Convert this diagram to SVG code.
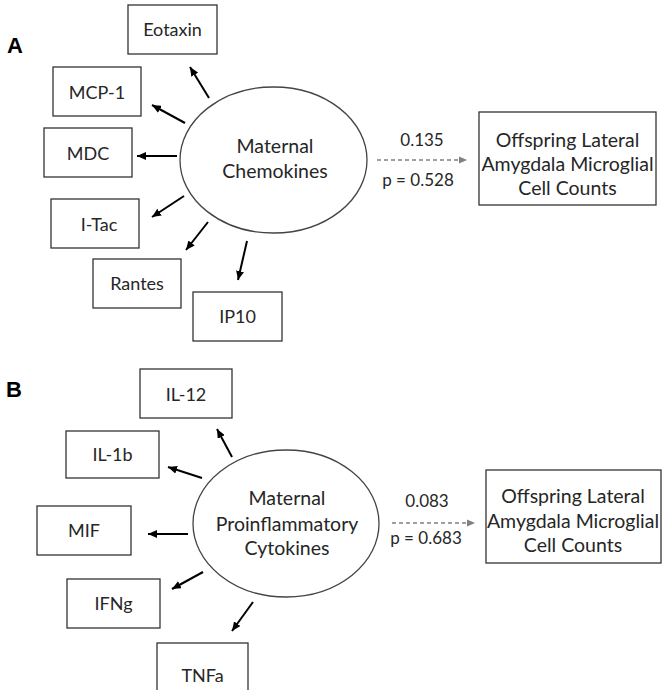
<svg xmlns="http://www.w3.org/2000/svg" width="662" height="690" viewBox="0 0 662 690">
<style>
.box{fill:#fff;stroke:#333;stroke-width:1.3}
.ell{fill:#fff;stroke:#444;stroke-width:1.3}
.t{font-family:Lato,"Liberation Sans",sans-serif;font-size:18px;fill:#262626;text-anchor:middle}
.b{font-family:Lato,"Liberation Sans",sans-serif;font-size:19.5px;fill:#262626;text-anchor:middle}
.s{font-family:Lato,"Liberation Sans",sans-serif;font-size:17px;fill:#262626;text-anchor:middle}
.lbl{font-family:"Liberation Sans",Arial,sans-serif;font-size:22px;font-weight:bold;fill:#000}
.arr{stroke:#000;stroke-width:2;fill:none;marker-end:url(#ah)}
.dash{stroke:#808080;stroke-width:1.3;stroke-dasharray:4 3;fill:none;marker-end:url(#gh)}
</style>
<defs>
<marker id="ah" markerUnits="userSpaceOnUse" markerWidth="9" markerHeight="8" refX="9" refY="4" orient="auto"><path d="M0,0 L9,4 L0,8 z" fill="#000"/></marker>
<marker id="gh" markerUnits="userSpaceOnUse" markerWidth="8" markerHeight="8" refX="8" refY="4" orient="auto"><path d="M0,0.5 L8,4 L0,7.5 z" fill="#808080"/></marker>
</defs>
<rect width="662" height="690" fill="#fff"/>
<text class="lbl" x="7" y="53">A</text>
<text class="lbl" x="6" y="397">B</text>

<g id="connectors">
<line class="arr" x1="209" y1="98" x2="190" y2="67"/>
<line class="arr" x1="185" y1="123" x2="152" y2="105"/>
<line class="arr" x1="177" y1="156" x2="137" y2="156"/>
<line class="arr" x1="184" y1="196" x2="152" y2="217"/>
<line class="arr" x1="208" y1="222" x2="186" y2="250"/>
<line class="arr" x1="247" y1="241" x2="238" y2="280"/>
<line class="dash" x1="377" y1="160" x2="467" y2="160"/>
<line class="arr" x1="232" y1="457" x2="217" y2="429"/>
<line class="arr" x1="202" y1="478" x2="168" y2="467"/>
<line class="arr" x1="188" y1="534" x2="148" y2="534"/>
<line class="arr" x1="203" y1="572" x2="172" y2="589"/>
<line class="arr" x1="253" y1="602" x2="232" y2="631"/>
<line class="dash" x1="392" y1="523" x2="475" y2="523"/>
</g>
<g id="edge-labels">
<text class="s" x="422" y="146">0.135</text>
<text class="s" x="418" y="186">p = 0.528</text>
<text class="s" x="427" y="507">0.083</text>
<text class="s" x="426" y="544">p = 0.683</text>
</g>

<g id="eotaxin"><rect class="box" x="128" y="5" width="89" height="49"/><text class="t" x="172.5" y="36">Eotaxin</text></g>
<g id="mcp1"><rect class="box" x="53" y="67" width="88" height="49"/><text class="t" x="97" y="99">MCP-1</text></g>
<g id="mdc"><rect class="box" x="44" y="128" width="88" height="49"/><text class="t" x="88" y="160">MDC</text></g>
<g id="itac"><rect class="box" x="51" y="199" width="88" height="49"/><text class="t" x="99" y="231">I-Tac</text></g>
<g id="rantes"><rect class="box" x="93" y="259" width="88" height="49"/><text class="t" x="137" y="290">Rantes</text></g>
<g id="ip10"><rect class="box" x="193" y="292" width="89" height="49"/><text class="t" x="237.5" y="323">IP10</text></g>
<g id="chemokines"><ellipse class="ell" cx="273.5" cy="160" rx="93.5" ry="73"/><text class="b" x="275" y="153">Maternal</text><text class="b" x="275" y="178">Chemokines</text></g>
<g id="outcomeA"><rect class="box" x="479" y="112" width="177" height="93"/><text class="b" x="567.5" y="147">Offspring Lateral</text><text class="b" x="567.5" y="171">Amygdala Microglial</text><text class="b" x="567.5" y="195">Cell Counts</text></g>

<g id="il12"><rect class="box" x="140" y="369" width="92" height="49"/><text class="t" x="186" y="401">IL-12</text></g>
<g id="il1b"><rect class="box" x="66" y="431" width="93" height="47"/><text class="t" x="112.5" y="461">IL-1b</text></g>
<g id="mif"><rect class="box" x="37" y="506" width="94" height="49"/><text class="t" x="84" y="537">MIF</text></g>
<g id="ifng"><rect class="box" x="67" y="579" width="93" height="49"/><text class="t" x="113.5" y="610">IFNg</text></g>
<g id="tnfa"><rect class="box" x="157" y="643" width="91" height="60"/><text class="t" x="202.5" y="682">TNFa</text></g>
<g id="cytokines"><ellipse class="ell" cx="286" cy="523.5" rx="93" ry="73.5"/><text class="b" x="287" y="505">Maternal</text><text class="b" x="287" y="531">Proinflammatory</text><text class="b" x="287" y="555">Cytokines</text></g>
<g id="outcomeB"><rect class="box" x="486" y="470" width="175" height="93"/><text class="b" x="573" y="503">Offspring Lateral</text><text class="b" x="573" y="528">Amygdala Microglial</text><text class="b" x="573" y="552">Cell Counts</text></g>
</svg>
